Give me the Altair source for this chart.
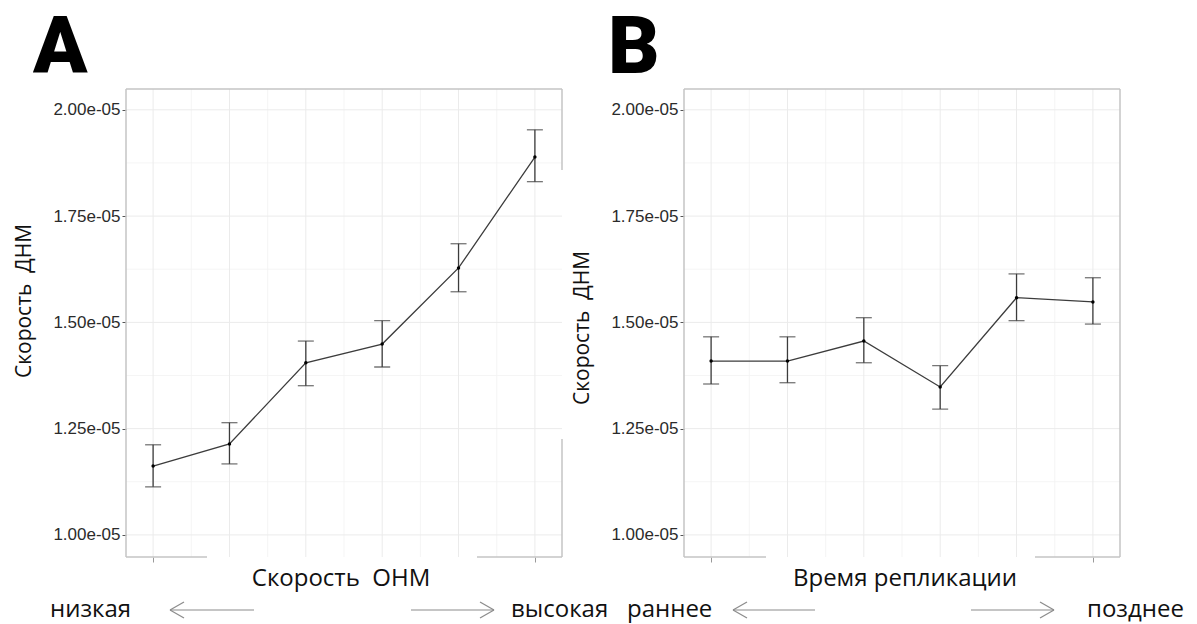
import altair as alt
import pandas as pd

# ---------------------------------------------------------------- data
groups = [1, 2, 3, 4, 5, 6]

# panel A: DNM rate vs ONM rate (mean and error-bar limits)
onm_rate = [1.162e-5, 1.214e-5, 1.405e-5, 1.449e-5, 1.628e-5, 1.889e-5]
onm_low = [1.113e-5, 1.167e-5, 1.351e-5, 1.395e-5, 1.572e-5, 1.831e-5]
onm_high = [1.212e-5, 1.264e-5, 1.456e-5, 1.504e-5, 1.685e-5, 1.953e-5]

# panel B: DNM rate vs replication timing
rep_rate = [1.409e-5, 1.409e-5, 1.456e-5, 1.348e-5, 1.558e-5, 1.548e-5]
rep_low = [1.355e-5, 1.358e-5, 1.405e-5, 1.296e-5, 1.504e-5, 1.496e-5]
rep_high = [1.466e-5, 1.466e-5, 1.511e-5, 1.398e-5, 1.614e-5, 1.605e-5]

y_breaks = [1.00e-5, 1.25e-5, 1.50e-5, 1.75e-5, 2.00e-5]
y_minor = [1.125e-5, 1.375e-5, 1.625e-5, 1.875e-5]
x_minor = [1.5, 2.5, 3.5, 4.5, 5.5]
x_ticks = [1, 6]

NBSP = "\u00a0"

# ---------------------------------------------------------------- styling
W, H = 436, 468
TEXT_FONT = "Open Sans"
TICK_FONT = "Liberation Sans"
FRAME = "#c4c4c4"
INK = "#3c3c3c"
ARROW = "#8c8c8c"

x_scale = alt.Scale(domain=[0.645, 6.355], nice=False, zero=False)
y_scale = alt.Scale(domain=[0.948e-5, 2.049e-5], nice=False, zero=False)

x_axis = alt.Axis(values=x_ticks, labels=False, domain=False, grid=False,
                  ticks=True, tickSize=5, tickColor="#9a9a9a", tickWidth=1,
                  title=None)
y_axis = alt.Axis(values=y_breaks,
                  labelExpr="format(datum.value * 100000, '.2f') + 'e-05'",
                  domain=False, grid=False, tickSize=4, tickColor="#555555",
                  tickWidth=1, labelPadding=2, labelFont=TICK_FONT,
                  labelFontSize=17, labelColor="#2b2b2b", title=None)


def X(field):
    return alt.X(f"{field}:Q", scale=x_scale, axis=x_axis)


def Y(field):
    return alt.Y(f"{field}:Q", scale=y_scale, axis=y_axis)


ONE = pd.DataFrame({"k": [0]})


def segment(x1, y1, x2, y2, color=FRAME, width=1.5):
    return alt.Chart(ONE).mark_rule(color=color, strokeWidth=width).encode(
        x=alt.value(x1), x2=alt.value(x2), y=alt.value(y1), y2=alt.value(y2))


def arrow(x_tail, x_tip, y):
    d = 14 if x_tip < x_tail else -14
    return [
        segment(x_tail, y, x_tip, y, ARROW, 1.2),
        segment(x_tip, y, x_tip + d, y - 8, ARROW, 1.2),
        segment(x_tip, y, x_tip + d, y + 8, ARROW, 1.2),
    ]


def label(text, x, y, size=24, align="left", baseline="alphabetic",
          angle=0, weight="normal", font=TEXT_FONT, color="#111111"):
    return alt.Chart(ONE).mark_text(
        text=text, align=align, baseline=baseline, angle=angle,
        fontSize=size, fontWeight=weight, font=font, color=color,
    ).encode(x=alt.value(x), y=alt.value(y))


def panel(rate, low, high, letter, letter_x, x_title, x_title_x,
          y_title_y, words, arrows, frame):
    df = pd.DataFrame({"x": groups, "y": rate, "lo": low, "hi": high})

    grid = [
        alt.Chart(pd.DataFrame({"x": x_minor})).mark_rule(
            color="#f3f3f3", strokeWidth=0.8).encode(x=X("x")),
        alt.Chart(pd.DataFrame({"y": y_minor})).mark_rule(
            color="#f3f3f3", strokeWidth=0.8).encode(y=Y("y")),
        alt.Chart(pd.DataFrame({"x": groups})).mark_rule(
            color="#ebebeb", strokeWidth=1).encode(x=X("x")),
        alt.Chart(pd.DataFrame({"y": y_breaks})).mark_rule(
            color="#ebebeb", strokeWidth=1).encode(y=Y("y")),
    ]

    base = alt.Chart(df)
    data_layers = [
        base.mark_rule(color=INK, strokeWidth=1.3).encode(
            x=X("x"), y=Y("lo"), y2="hi:Q"),
        base.mark_tick(orient="horizontal", size=16, thickness=1.3,
                       color=INK).encode(x=X("x"), y=Y("lo")),
        base.mark_tick(orient="horizontal", size=16, thickness=1.3,
                       color=INK).encode(x=X("x"), y=Y("hi")),
        base.mark_line(color=INK, strokeWidth=1.3).encode(x=X("x"), y=Y("y")),
        base.mark_circle(size=12, color="black", opacity=1).encode(
            x=X("x"), y=Y("y")),
    ]

    deco = [segment(*s) for s in frame]
    for a in arrows:
        deco += arrow(*a)
    deco += [
        label(letter, letter_x, -16, size=80, weight=900, font="Roboto",
              color="black"),
        label(x_title, x_title_x, 497, size=24, align="center"),
        label(f"Скорость{NBSP}{NBSP}ДНМ", -101, y_title_y, size=21,
              align="center", baseline="middle", angle=270),
    ]
    deco += [label(t, x, 528) for t, x in words]

    return alt.layer(*grid, *data_layers, *deco).properties(width=W, height=H)


# frame pieces of each panel (pixel offsets inside the panel)
frame_a = [
    (0, 0, W, 0), (0, 0, 0, H),
    (0, H, 81, H), (351, H, W, H),
    (W, 0, W, 81), (W, 350, W, H),
]
frame_b = [
    (0, 0, W, 0), (0, 0, 0, H), (W, 0, W, H),
    (0, H, 82, H), (351, H, W, H),
]

panel_a = panel(onm_rate, onm_low, onm_high, "A", -93,
                f"Скорость{NBSP}{NBSP}ОНМ", 215, 212,
                [("низкая", -76), ("высокая", 385)],
                [(128, 44, 521), (285, 368, 521)],
                frame_a)

# invisible anchors pinning the page corners
anchors = [
    alt.Chart(ONE).mark_rect(opacity=0).encode(
        x=alt.value(-126), x2=alt.value(-125),
        y=alt.value(-89), y2=alt.value(-88)),
    alt.Chart(ONE).mark_rect(opacity=0).encode(
        x=alt.value(-126), x2=alt.value(-125),
        y=alt.value(533), y2=alt.value(534)),
]
panel_a = alt.layer(panel_a, *anchors)

panel_b = panel(rep_rate, rep_low, rep_high, "B", -76,
                "Время репликации", 221, 239,
                [("раннее", -57), ("позднее", 403)],
                [(131, 49, 521), (287, 370, 521)],
                frame_b)

chart = alt.hconcat(panel_a, panel_b, spacing=122, bounds="flush").properties(
    padding=0, background="white"
).configure_view(stroke=None)

chart.save("out.html", embed_options={"renderer": "svg", "actions": False})
